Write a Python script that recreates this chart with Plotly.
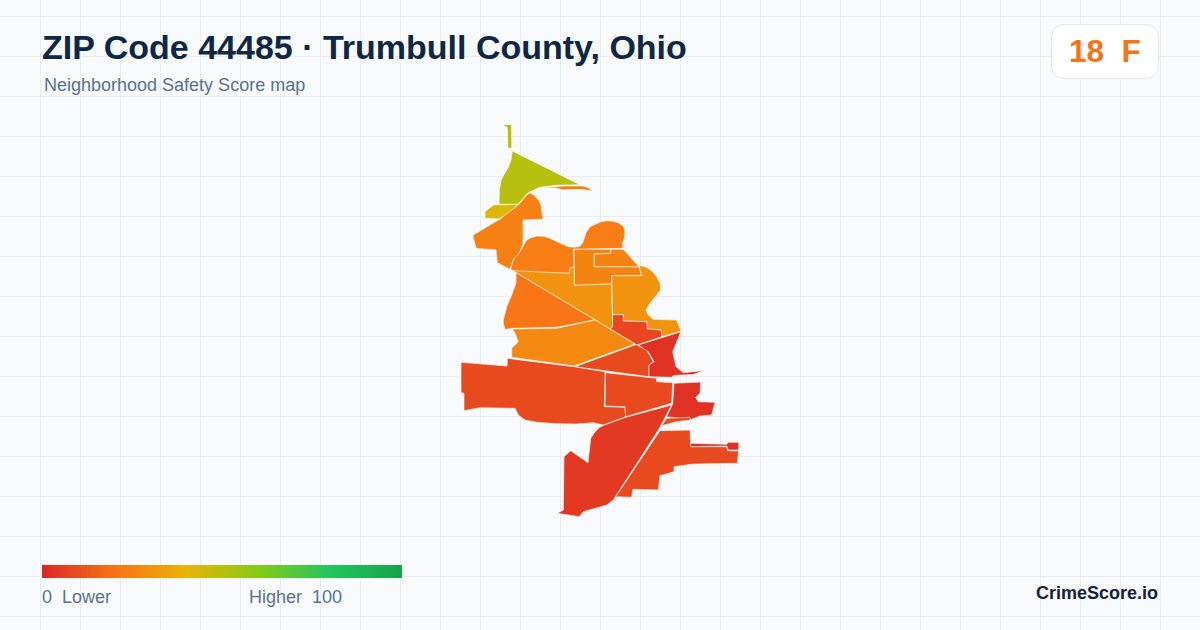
import plotly.graph_objects as go
from plotly.colors import sample_colorscale

TITLE = "ZIP Code 44485 · Trumbull County, Ohio"
SUBTITLE = "Neighborhood Safety Score map"
OVERALL_SCORE = 18
OVERALL_GRADE = "F"
BRAND = "CrimeScore.io"
LEGEND_LOW = "0\u00a0\u00a0Lower"
LEGEND_HIGH = "Higher\u00a0\u00a0100"

SCALE_STOPS = [0, 20, 40, 60, 80, 100]
SCALE_COLORS = ["#dc2626", "#f97316", "#eab308", "#84cc16", "#22c55e", "#16a34a"]
LEGEND_VALUES = list(range(0, 101))

# Tract outlines (map units) and their scores
tract_sliver_n = [(504,124.5),(511.5,124.5),(511.8,148),(507.8,148),(507.5,130),(507,127),(504,126)]
tract_north = [(512.3,151),(580,184.7),(556.7,185.3),(540,187.3),(530,191.7),(526,195),(518.3,204.3),(499,204.3),(499.3,190),(501.3,179.3),(508.3,167.3),(511,160)]
tract_gold = [(493.3,205),(518.3,204.3),(510.7,212.7),(498.3,219),(485,218.3),(485,211.7)]
tract_thin = [(540,188),(563,186),(583,186),(588,187.5),(592.5,191),(581.7,189.5),(570,189.5),(563,190),(556,188)]
tract_arm = [(530,192.7),(535,196),(539,200.7),(541,205),(543,219.3),(523,220),(523,243.3),(520,251.7),(513.3,260),(510,269.3),(497.3,262.7),(496,250),(476,248.3),(472.7,235.3),(500,219),(518.3,205),(526.7,195)]
tract_blob = [(510.7,269.3),(513.3,260),(520,251.7),(526,240.7),(530,238),(536.7,236),(543.3,236.3),(548.3,237.7),(555,240.7),(561.7,244),(568.3,246.7),(575,247.3),(580,246),(582.7,242.7),(586,232.7),(590,226.7),(595,224),(600.7,221.7),(606.7,220.7),(613.3,221.3),(618.3,222.7),(622.7,225.7),(624.3,228.3),(625,234),(624.3,238.3),(622.3,243.3),(623,248.3),(573.3,249.3),(574,266.7),(570,268.3),(569.3,273.3),(518.3,272.7),(511.7,270)]
tract_cell_a = [(574,249.3),(610.7,249.3),(610.7,253.3),(594.3,254),(594.3,266.7),(639,266.7),(641.7,275.7),(611.7,275.7),(611.7,284),(574.3,285.3)]
tract_cell_b = [(610.7,249.3),(623.3,249.3),(639,266.7),(594.3,266.7),(594.3,254),(610.7,253.3)]
tract_diag = [(513,270.7),(569.3,273.3),(570,268.3),(574,266.7),(574.3,285.3),(611.7,284),(612.7,326.7),(610,328.9)]
tract_east = [(611.7,275.7),(641.7,275.7),(639,265.3),(646.7,267.3),(653.3,272.3),(657.3,277.7),(660,283.3),(660.7,290),(656.7,295),(650,303.3),(646,310),(648.3,315),(653.3,319.3),(665,320),(676.7,320),(681,331),(662,336.7),(661,330),(647.3,329),(646.7,321.7),(623.3,321),(623.3,314.7),(612.7,314.7)]
tract_step = [(612.7,314.7),(623.3,314.7),(623.3,321),(646.7,321.7),(647.3,329),(661,330),(662,336.7),(636.7,345),(610,328.9),(612.7,326.7)]
tract_west_or = [(516,272.6),(595,319.9),(556.7,327.3),(512.3,328.3),(505,329.5),(503.3,323.3),(503.3,320),(506.7,306.7),(511.7,295),(516,283)]
tract_mid_or = [(512.3,329),(556.7,328.3),(595,319.9),(635,344),(574,366),(511.7,357.3),(511.7,348.3),(518.3,341.7),(515,333.3)]
tract_mid_red = [(636,344.6),(646.7,350),(653.3,361.7),(649,365),(649,376.7),(575,366.7)]
tract_river = [(681,331.7),(672.7,351.7),(676,366.7),(683.3,372.7),(704,370.5),(693.3,374.5),(673.3,375.5),(671.7,377.3),(649,376.7),(649,365),(654,361.7),(648.3,351.7),(638.3,345)]
tract_west = [(507.3,358.3),(574,366.7),(605,371.7),(604.3,406.7),(625,407.3),(625.7,416.7),(603.3,425),(593.3,422.7),(576.7,424),(556.7,423.7),(536.7,422.3),(525,420),(518.3,415),(515,408.3),(480,407.7),(464,410.7),(464,393.3),(461,392.7),(461,362.3),(507,366)]
tract_center = [(605.7,372.7),(649,377.7),(656.7,378.3),(656.7,381.7),(672.7,382.7),(671.7,403.3),(625.7,416.7),(625,406.7),(605,406)]
tract_block = [(674,383.3),(700.7,382),(700,393.3),(695.7,397.3),(698.3,401.7),(715,402.3),(711.7,415),(700,416),(690,420),(666.7,416.7),(672.7,404)]
tract_south = [(671.7,405),(658.3,430),(613.3,500),(606.7,505),(583.3,511.7),(579.3,516.7),(557.3,513.3),(563.3,510),(564,456.7),(570.7,450.7),(588,462.7),(590,441.7),(590.7,438.3),(594,433.3),(598.3,428.3),(603,425.5),(625.7,417.3)]
tract_se = [(660,430.7),(690,430),(690.7,446.7),(726.7,446.7),(727.7,450.7),(738.7,451),(737.3,463.3),(693.3,464),(674,466.7),(674,471.7),(660,475.7),(658.3,490),(632.7,489.3),(631.7,497.3),(615.7,496.7)]
tract_strip = [(690.7,443.3),(726.7,444.3),(728.3,442.3),(738.7,442.3),(738.7,450),(728.3,450),(726.7,446),(690.7,446.7)]
tract_wedge = [(666.7,418.3),(690,417.3),(690.7,420),(676.7,421.7),(661.7,425.7)]

TRACTS = [tract_sliver_n, tract_north, tract_gold, tract_thin, tract_arm, tract_blob, tract_cell_a,
          tract_cell_b, tract_diag, tract_east, tract_step, tract_west_or, tract_mid_or, tract_mid_red,
          tract_river, tract_west, tract_center, tract_block, tract_south, tract_se, tract_strip, tract_wedge]
SCORES = [50, 50, 43, 24, 24, 23, 25, 25, 30, 30, 8, 21, 27, 9, 3, 9, 9, 3, 5, 9, 2, 9]

FONT = "Liberation Sans"
BG = "#f8fafc"
GRID = "#e6eef2"

colorscale = [[s / 100, c] for s, c in zip(SCALE_STOPS, SCALE_COLORS)]
fig = go.Figure()

for outline, score in zip(TRACTS, SCORES):
    xs = [p[0] for p in outline] + [outline[0][0]]
    ys = [p[1] for p in outline] + [outline[0][1]]
    fig.add_trace(go.Scatter(
        x=xs, y=ys, mode="lines", fill="toself",
        fillcolor=sample_colorscale(colorscale, score / 100)[0],
        line=dict(color="rgba(255,255,255,0.85)", width=0.7),
        hoverinfo="skip", showlegend=False,
    ))

fig.add_trace(go.Heatmap(
    x=LEGEND_VALUES, y=[0], z=[LEGEND_VALUES], xaxis="x2", yaxis="y2",
    colorscale=colorscale, zmin=0, zmax=100, zsmooth="best", showscale=False, hoverinfo="skip",
))

def label(x, y, text, size, color, bold=False, anchor="left"):
    fig.add_annotation(
        x=x, y=y, xref="x", yref="y", text=f"<b>{text}</b>" if bold else text,
        showarrow=False, xanchor=anchor, yanchor="middle", align=anchor,
        font=dict(family=FONT, size=size, color=color), borderpad=0, borderwidth=0,
    )

label(42, 47, TITLE, 34, "#0f2744", bold=True)
label(44, 85, SUBTITLE, 18, "#5b7190")
label(1104.5, 51, f"{OVERALL_SCORE}\u00a0\u00a0{OVERALL_GRADE}", 31.5, "#f97316", bold=True, anchor="center")
label(42, 597, LEGEND_LOW, 18, "#5b7190")
label(249, 597, LEGEND_HIGH, 18, "#5b7190")
label(1158, 593, BRAND, 18, "#14233b", bold=True, anchor="right")

fig.update_layout(
    width=1200, height=630, margin=dict(l=0, r=0, t=0, b=0),
    paper_bgcolor=BG, plot_bgcolor=BG, showlegend=False,
    xaxis=dict(domain=[0, 1], range=[0, 1200], showgrid=True, gridcolor=GRID, gridwidth=1,
               tick0=0.5, dtick=40, zeroline=False, showticklabels=False, ticks="", showline=False, fixedrange=True),
    yaxis=dict(domain=[0, 1], range=[630, 0], showgrid=True, gridcolor=GRID, gridwidth=1,
               tick0=16.5, dtick=40, zeroline=False, showticklabels=False, ticks="", showline=False, fixedrange=True),
    xaxis2=dict(domain=[42 / 1200, 402 / 1200], range=[0, 100], anchor="y2", visible=False, fixedrange=True),
    yaxis2=dict(domain=[(630 - 578) / 630, (630 - 565) / 630], range=[-0.5, 0.5], anchor="x2", visible=False, fixedrange=True),
    shapes=[
        dict(type="rect", xref="x", yref="y", x0=0, x1=1200, y0=0, y1=95.5, layer="below",
             fillcolor=BG, line=dict(width=0)),
        dict(type="path", xref="x", yref="y", layer="above",
             path="M 1065.5 24.5 L 1144.5 24.5 Q 1158.5 24.5 1158.5 38.5 L 1158.5 64.5 Q 1158.5 78.5 1144.5 78.5 "
                  "L 1065.5 78.5 Q 1051.5 78.5 1051.5 64.5 L 1051.5 38.5 Q 1051.5 24.5 1065.5 24.5 Z",
             fillcolor="#ffffff", line=dict(color="#e2e8f0", width=1)),
    ],
)

fig.write_html("out.html", config=dict(displayModeBar=False),
               post_script="document.body.style.margin='0';document.body.style.background='#f8fafc';")
